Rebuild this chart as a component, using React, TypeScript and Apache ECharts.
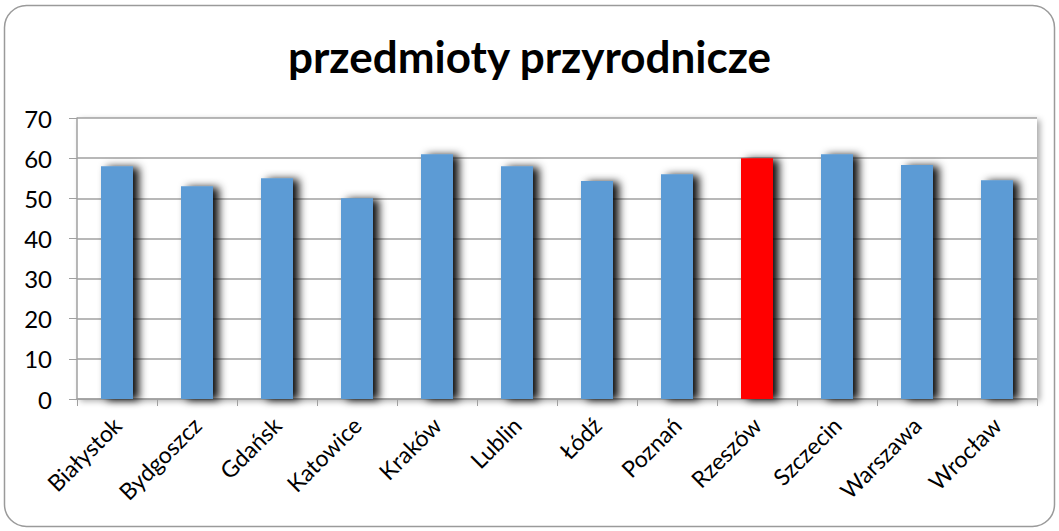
import React, { useEffect, useRef } from "react";
import * as echarts from "echarts";

const categories = ["Białystok", "Bydgoszcz", "Gdańsk", "Katowice", "Kraków", "Lublin", "Łódź", "Poznań", "Rzeszów", "Szczecin", "Warszawa", "Wrocław"];
const values = [58, 53, 55, 50, 61, 58, 54.3, 56, 60, 61, 58.3, 54.5];
const highlight = "Rzeszów";
const yTicks = { min: 0, max: 70, interval: 10 };
const title = "przedmioty przyrodnicze";

export default function App() {
  const ref = useRef<HTMLDivElement>(null);
  useEffect(() => {
    if (!ref.current) return;
    const chart = echarts.init(ref.current, null, { renderer: "svg" });
    const font = "Lato, 'Open Sans', sans-serif";
    chart.setOption({
      animation: false,
      backgroundColor: "#fff",
      title: {
        text: title,
        left: "center",
        top: 29,
        textStyle: { fontFamily: font, fontWeight: "bold", fontSize: 44, color: "#000" },
      },
      graphic: [
        {
          type: "rect",
          shape: { x: 4.5, y: 5.5, width: 1050, height: 521, r: 22 },
          style: { fill: "none", stroke: "#9a9a9a", lineWidth: 1.5 },
          z: 100,
        },
      ],
      grid: {
        left: 77,
        right: 22,
        top: 118,
        bottom: 132,
        show: true,
        borderWidth: 0,
        backgroundColor: "#fff",
        shadowColor: "rgba(0,0,0,0.35)",
        shadowBlur: 6,
        shadowOffsetX: 3,
        shadowOffsetY: 2,
      },
      xAxis: {
        type: "category",
        data: categories,
        axisLine: { lineStyle: { color: "#a0a0a0", width: 1.5 } },
        axisTick: { show: true, length: 7, lineStyle: { color: "#a0a0a0" } },
        axisLabel: {
          rotate: 45,
          margin: 22,
          fontFamily: font,
          fontSize: 23,
          color: "#000",
          interval: 0,
        },
      },
      yAxis: {
        type: "value",
        min: yTicks.min,
        max: yTicks.max,
        interval: yTicks.interval,
        axisLine: { show: true, lineStyle: { color: "#a0a0a0", width: 1.5 } },
        axisTick: { show: true, length: 8, lineStyle: { color: "#a0a0a0" } },
        axisLabel: { fontFamily: font, fontSize: 24, color: "#000", margin: 25 },
        splitLine: { lineStyle: { color: "#a0a0a0", width: 1.5 } },
      },
      series: [
        {
          type: "bar",
          barWidth: 32,
          data: values.map((v, i) => ({
            value: v,
            itemStyle: { color: categories[i] === highlight ? "#ff0000" : "#5b9bd5" },
          })),
          itemStyle: {
            shadowColor: "rgba(0,0,0,0.95)",
            shadowBlur: 8,
            shadowOffsetX: 6,
            shadowOffsetY: 1,
          },
        },
      ],
    });
    return () => chart.dispose();
  }, []);
  return (
    <div
      ref={ref}
      style={{ position: "fixed", left: 0, top: 0, width: 1059, height: 531 }}
    />
  );
}
